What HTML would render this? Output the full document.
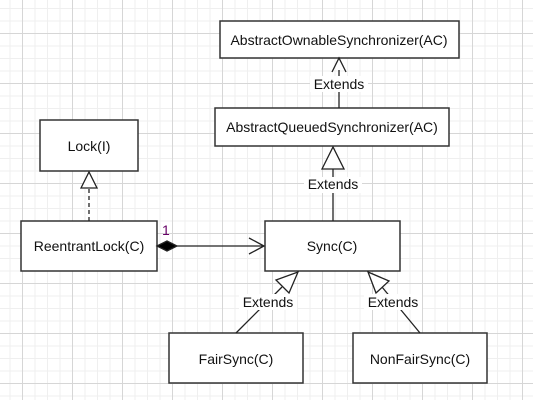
<!DOCTYPE html>
<html><head><style>
html,body{margin:0;padding:0;}
body{width:533px;height:400px;overflow:hidden;background:#fff;
background-image:linear-gradient(#d6d6d6 1px,transparent 1px),linear-gradient(90deg,#d6d6d6 1px,transparent 1px),linear-gradient(#efefef 1px,transparent 1px),linear-gradient(90deg,#efefef 1px,transparent 1px);
background-size:50px 50px,50px 50px,12.5px 12.5px,12.5px 12.5px;background-position:22px 33px,22px 33px,22px 33px,22px 33px;}
text{font-family:"Liberation Sans",Arial,sans-serif;font-size:14px;}
</style></head><body>
<svg width="533" height="400" style="position:absolute;left:0;top:0">
<g fill="#fff" stroke="#333" stroke-width="1.5">
<rect x="220" y="21" width="239" height="37"/>
<rect x="215" y="108" width="234" height="38"/>
<rect x="40" y="120" width="98" height="51"/>
<rect x="21" y="221" width="136" height="50"/>
<rect x="265" y="221" width="135" height="50"/>
<rect x="169" y="333" width="134" height="50"/>
<rect x="353" y="333" width="134" height="50"/>
</g>
<g stroke="#222" stroke-width="1.3" fill="none">
<line x1="339" y1="108" x2="339" y2="70"/>
<path d="M332 72 L339 58 L346 72" fill="none"/>
<line x1="333" y1="221" x2="333" y2="169"/>
<path d="M322 169 L333 147 L344 169 Z" fill="#fff"/>
<line x1="89" y1="221" x2="89" y2="188" stroke-dasharray="4,3"/>
<path d="M81 188 L89 172 L97 188 Z" fill="#fff"/>
<line x1="177" y1="246" x2="264" y2="246"/>
<path d="M249 238 L264 246 L249 254"/>
<path d="M157 246 L167 241 L177 246 L167 251 Z" fill="#000"/>
<line x1="236" y1="333" x2="282" y2="287"/>
<path d="M289 293 L298 272 L276 280 Z" fill="#fff"/>
<line x1="420" y1="333" x2="382" y2="287"/>
<path d="M368 272 L376 293 L389 281 Z" fill="#fff"/>
</g>
<g fill="#fff">
<rect x="310" y="76" width="58" height="16"/>
<rect x="304" y="177" width="58" height="16"/>
<rect x="239" y="294" width="58" height="16"/>
<rect x="364" y="294" width="58" height="16"/>
</g>
<g fill="#111" text-anchor="middle">
<text x="339" y="45">AbstractOwnableSynchronizer(AC)</text>
<text x="332" y="132">AbstractQueuedSynchronizer(AC)</text>
<text x="89" y="151">Lock(I)</text>
<text x="89" y="251">ReentrantLock(C)</text>
<text x="332" y="251">Sync(C)</text>
<text x="236" y="364">FairSync(C)</text>
<text x="420" y="364">NonFairSync(C)</text>
<text x="339" y="89">Extends</text>
<text x="333" y="189">Extends</text>
<text x="268" y="307">Extends</text>
<text x="393" y="307">Extends</text>
</g>
<text x="162" y="235" fill="#606" font-size="11">1</text>
</svg>
</body></html>
